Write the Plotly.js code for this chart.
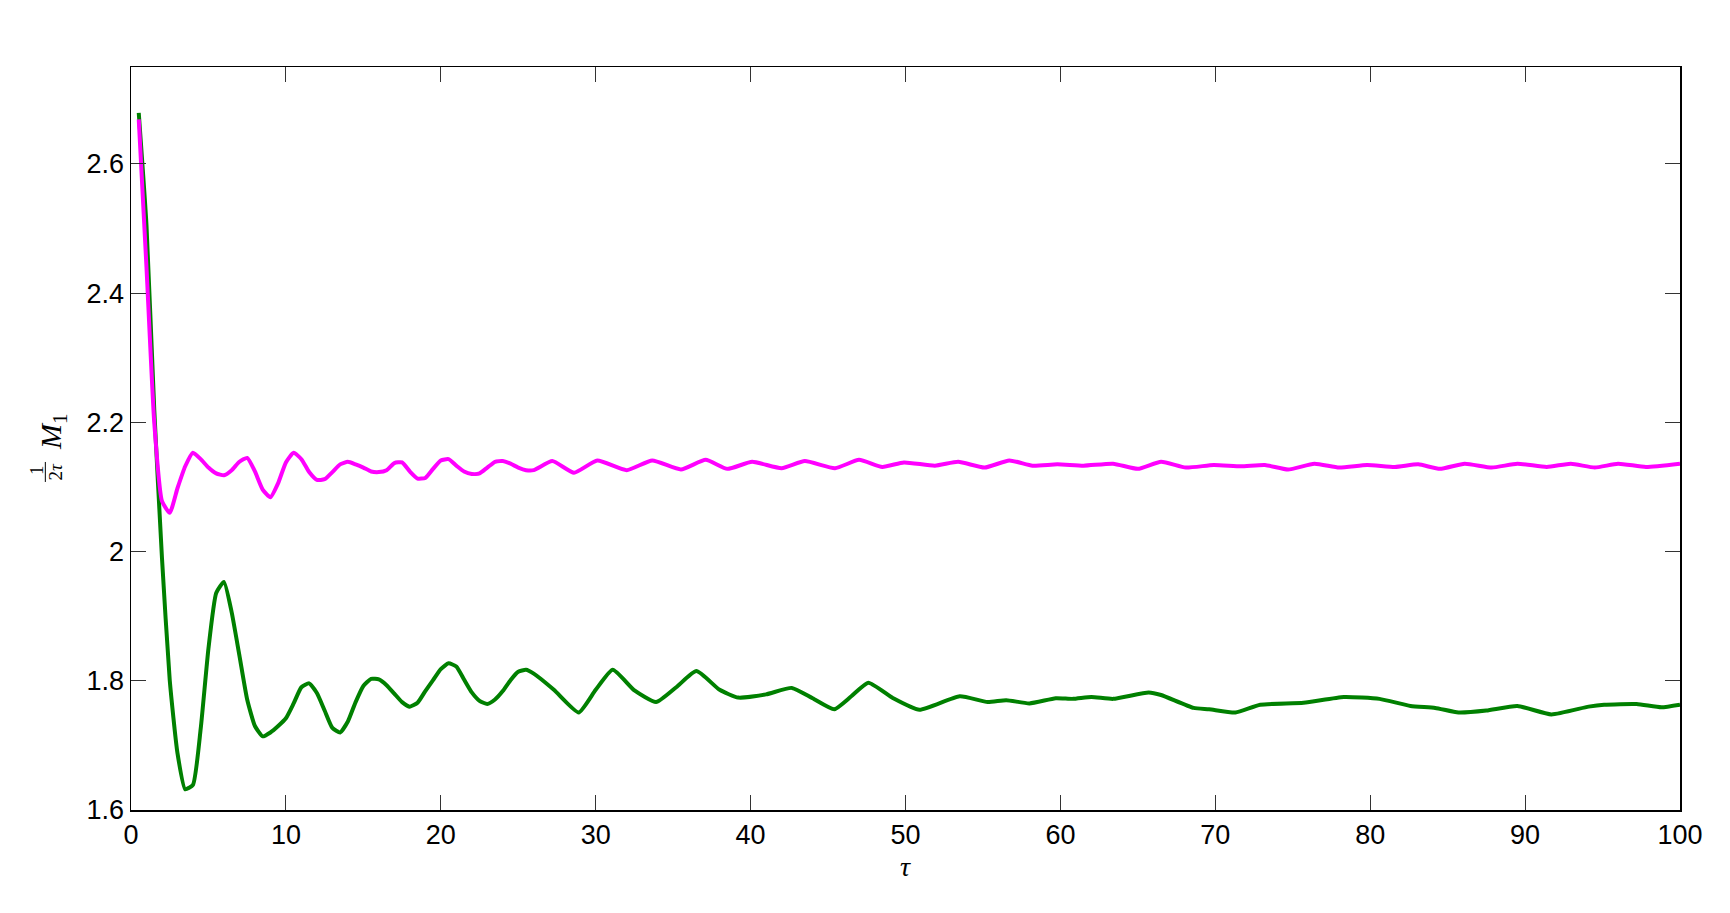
<!DOCTYPE html>
<html>
<head>
<meta charset="utf-8">
<script src="https://cdn.plot.ly/plotly-3.0.1.min.js"></script>
<style>html,body{margin:0;padding:0;background:#fff;}#chart{width:1730px;height:913px;}</style>
</head>
<body>
<div id="chart"></div>
<script>
// Green series (tau, value)
const tauGreen = [0.5,1.0,1.5,2.0,2.5,3.0,3.5,4.0,4.5,5.0,5.5,6.0,6.5,7.0,7.5,8.0,8.5,9.0,9.5,10,
  10.5,11,11.5,12,12.5,13,13.5,14,14.5,15,15.5,16,16.5,17,17.5,18,18.5,19,19.5,20,
  20.5,21,21.5,22,22.5,23,23.5,24,24.5,25,25.5,26,
  27.3,28.9,30.0,31.1,32.5,33.9,35.2,36.5,38.0,39.2,41.0,42.66,44.0,45.4,46.5,47.6,49.2,50.9,
  53.5,55.3,56.5,58.0,59.7,60.8,62.0,63.4,65.7,66.5,68.6,69.6,71.3,72.9,75.7,78.3,80.6,82.6,
  84.2,85.7,87.5,89.5,91.7,94.1,95.1,97.2,98.8,100];
const valGreen = [2.679,2.505,2.22,1.99,1.801,1.688,1.632,1.639,1.726,1.850,1.936,1.953,1.906,1.839,1.771,1.730,1.714,1.720,1.730,1.742,
  1.765,1.790,1.796,1.781,1.754,1.727,1.720,1.737,1.767,1.792,1.803,1.802,1.793,1.780,1.767,1.760,1.766,1.784,1.801,1.818,
  1.827,1.822,1.802,1.782,1.769,1.764,1.771,1.784,1.801,1.814,1.817,1.811,
  1.786,1.751,1.786,1.817,1.785,1.767,1.790,1.815,1.786,1.774,1.779,1.789,1.773,1.756,1.776,1.797,1.773,1.755,
  1.776,1.767,1.770,1.765,1.773,1.772,1.775,1.772,1.782,1.778,1.758,1.756,1.751,1.763,1.766,1.775,1.772,1.761,
  1.758,1.751,1.754,1.761,1.748,1.760,1.763,1.764,1.759,1.763];

// Magenta series (tau, value)
const tauMagenta = [0.5,1.0,1.5,2.0,2.5,3.0,3.5,4.0,4.5,5.0,5.5,6.0,6.5,7.0,7.5,8.0,8.5,9.0,9.5,10,
  10.5,11,11.5,12,12.5,13,13.5,14,14.5,15,15.5,16,16.5,17,17.5,18,18.5,19,19.5,20,
  20.5,21,21.5,22,22.5,23,23.5,24,24.5,25,25.5,26,
  27.2,28.6,30.1,32.0,33.65,35.5,37.1,38.5,40.1,42.0,43.5,45.45,47.0,48.5,49.9,51.9,53.4,55.1,
  56.7,58.2,59.8,61.5,63.4,65.0,66.5,68.1,69.9,71.65,73.2,74.7,76.4,78.0,79.8,81.6,83.1,84.5,
  86.1,87.85,89.5,91.4,92.95,94.5,96.0,97.8,100];
const valMagenta = [2.669,2.44,2.20,2.078,2.060,2.098,2.132,2.153,2.143,2.130,2.121,2.118,2.126,2.139,2.145,2.124,2.096,2.084,2.106,2.138,
  2.153,2.143,2.123,2.111,2.112,2.123,2.135,2.139,2.135,2.130,2.124,2.123,2.126,2.137,2.138,2.124,2.113,2.114,2.128,2.141,
  2.143,2.133,2.124,2.120,2.121,2.130,2.139,2.140,2.136,2.130,2.126,2.126,
  2.140,2.122,2.141,2.126,2.141,2.127,2.142,2.128,2.139,2.129,2.140,2.129,2.142,2.131,2.138,2.133,2.139,2.130,
  2.141,2.133,2.135,2.133,2.136,2.128,2.139,2.130,2.134,2.132,2.134,2.127,2.136,2.130,2.134,2.131,2.135,2.128,
  2.136,2.130,2.136,2.131,2.136,2.130,2.136,2.131,2.136];

const xTickVals = [0,10,20,30,40,50,60,70,80,90,100];
const yTickVals = [1.6,1.8,2.0,2.2,2.4,2.6];
const yTickText = ['1.6','1.8','2','2.2','2.4','2.6'];

const traces = [
  {x: tauGreen, y: valGreen, type: 'scatter', mode: 'lines',
   line: {color: '#008000', width: 4, shape: 'spline', smoothing: 0.5}, hoverinfo: 'skip'},
  {x: tauMagenta, y: valMagenta, type: 'scatter', mode: 'lines',
   line: {color: '#ff00ff', width: 4, shape: 'spline', smoothing: 0.5}, hoverinfo: 'skip'}
];

const tickFont = {family: 'Liberation Sans, Arial, sans-serif', size: 27, color: '#000'};
const mathFont = 'Liberation Serif, Times New Roman, serif';

const axisCommon = {
  showline: true, linecolor: '#000', linewidth: 1.5, mirror: 'ticks',
  ticks: 'inside', ticklen: 15, tickwidth: 1, tickcolor: '#333',
  showgrid: false, zeroline: false, tickfont: tickFont
};

const layout = {
  width: 1730, height: 913,
  margin: {l: 131, r: 50, t: 67, b: 103},
  paper_bgcolor: '#fff', plot_bgcolor: '#fff',
  showlegend: false,
  xaxis: Object.assign({}, axisCommon, {
    range: [0, 100], tickvals: xTickVals, ticktext: xTickVals.map(String)
  }),
  yaxis: Object.assign({}, axisCommon, {
    range: [1.6, 2.75], tickvals: yTickVals, ticktext: yTickText
  }),
  annotations: [
    {xref: 'paper', yref: 'paper', x: 0.5, y: -0.0754, showarrow: false,
     xanchor: 'center', yanchor: 'middle',
     text: '<i>τ</i>', font: {family: mathFont, size: 28, color: '#000'}},
    {xref: 'paper', yref: 'paper', x: -0.0504, y: 0.510, showarrow: false, textangle: -90,
     xanchor: 'center', yanchor: 'middle',
     text: '<i>M</i><sub>1</sub>', font: {family: mathFont, size: 30, color: '#000'}},
    {xref: 'paper', yref: 'paper', x: -0.0610, y: 0.457, showarrow: false, textangle: -90,
     xanchor: 'center', yanchor: 'middle',
     text: '1', font: {family: mathFont, size: 19, color: '#000'}},
    {xref: 'paper', yref: 'paper', x: -0.0488, y: 0.456, showarrow: false, textangle: -90,
     xanchor: 'center', yanchor: 'middle',
     text: '2<i>τ</i>', font: {family: mathFont, size: 19, color: '#000'}}
  ],
  shapes: [
    {type: 'line', xref: 'paper', yref: 'paper', x0: -0.0553, x1: -0.0553, y0: 0.4415, y1: 0.4684,
     line: {color: '#000', width: 1}}
  ]
};

Plotly.newPlot('chart', traces, layout, {displayModeBar: false, staticPlot: true});
</script>
</body>
</html>
